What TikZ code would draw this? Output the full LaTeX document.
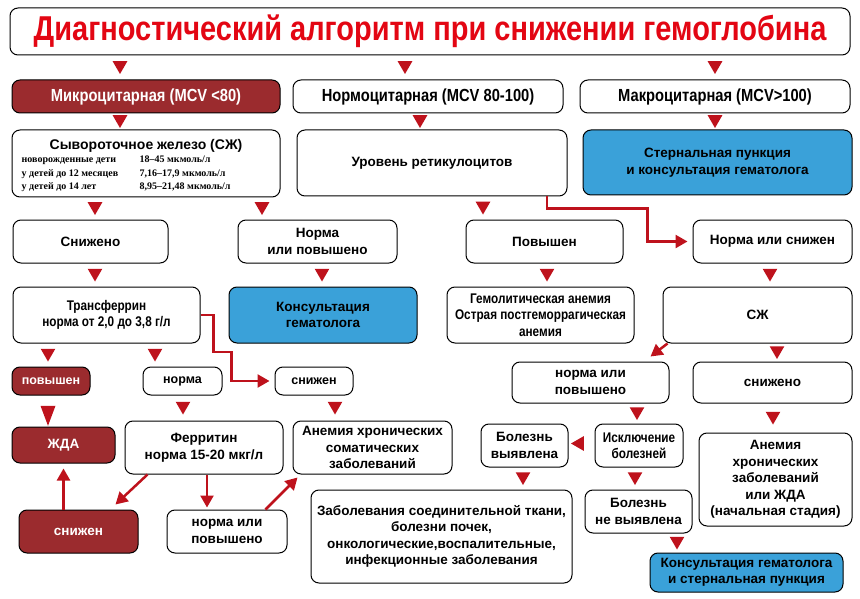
\documentclass[tikz,border=0pt]{standalone}
\usepackage{fontspec}
\setmainfont{Liberation Sans}
\newfontfamily\condfont[FakeStretch=0.84]{Liberation Sans}
\newfontfamily\tabfont{Liberation Serif}
\usetikzlibrary{arrows.meta,positioning,shapes.geometric,calc}
\definecolor{darkred}{HTML}{9B2B2E}
\definecolor{arrred}{HTML}{BE121C}
\definecolor{titlered}{HTML}{E30613}
\definecolor{hemblue}{HTML}{3AA1D9}

\begin{document}
\begin{tikzpicture}[x=1pt,y=-1pt,
  font=\bfseries\fontsize{13.5}{16.5}\selectfont,
  box/.style={draw=black,line width=1pt,rounded corners=8pt,fill=white,align=center,inner sep=2pt},
  red box/.style={box,fill=darkred,text=white},
  blue box/.style={box,fill=hemblue},
  boxsize/.style 2 args={minimum width=#1,minimum height=#2},
  cond/.style={font=\condfont\bfseries\fontsize{17.5}{20}\selectfont},
  cond small/.style={font=\condfont\bfseries\fontsize{14}{16.5}\selectfont},
  small/.style={font=\bfseries\fontsize{12.5}{15}\selectfont},
  tri/.style={regular polygon,regular polygon sides=3,shape border rotate=180,fill=arrred,inner sep=0pt,minimum size=17pt,yshift=2pt},
  long tri/.style={isosceles triangle,isosceles triangle stretches,shape border rotate=-90,fill=arrred,inner sep=0pt,minimum width=15pt,minimum height=20pt},
  left tri/.style={tri,shape border rotate=90,yshift=0pt,xshift=-2pt},
  conn/.style={draw=arrred,line width=2.5pt,-{Triangle[length=12pt,width=13pt]}}
]
\useasboundingbox (0,0) rectangle (860,599);

% title
\node[box,boxsize={840pt}{47pt},font=\condfont\bfseries\fontsize{34.5}{38}\selectfont,text=titlered] (title) at (430,31.5)
  {Диагностический алгоритм при снижении гемоглобина};

% MCV
\node[red box,cond,boxsize={268pt}{33pt}] (micro) at (146,96.5) {Микроцитарная (MCV <80)};
\node[box,cond,boxsize={270pt}{33pt}] (normo) at (428,96.5) {Нормоцитарная (MCV 80-100)};
\node[box,cond,boxsize={270pt}{33pt}] (macro) at (715,96.5) {Макроцитарная (MCV>100)};

% serum iron, reticulocytes, sternal puncture
\node[box,boxsize={268pt}{67pt}] (szh) at (146,163.5) {};
\node[anchor=base,font=\bfseries\fontsize{14}{16}\selectfont] (szhhead) at ([yshift=-20pt]szh.north) {Сывороточное железо (СЖ)};
\node[anchor=base west,inner sep=0pt,font=\tabfont\bfseries\fontsize{10}{13.5}\selectfont] (szhtab) at ([xshift=10pt,yshift=-33.5pt]szh.north west)
  {\begin{tabular}[t]{@{}p{118pt}@{}l@{}}
   новорожденные дети & 18–45 мкмоль/л\\
   у детей до 12 месяцев & 7,16–17,9 мкмоль/л\\
   у детей до 14 лет & 8,95–21,48 мкмоль/л
   \end{tabular}};
\node[box,boxsize={270pt}{66pt}] (retic) at (432,163) {Уровень ретикулоцитов};
\node[blue box,boxsize={269pt}{65pt}] (stern) at (717.5,162.5) {Стернальная пункция\\и консультация гематолога};

% third row
\node[box,boxsize={155pt}{43pt}] (low1) at (90.5,241.5) {Снижено};
\node[box,boxsize={159pt}{43pt}] (normhigh1) at (317.5,241.5) {Норма\\или повышено};
\node[box,boxsize={157pt}{43pt}] (high1) at (544.5,241.5) {Повышен};
\node[box,boxsize={159pt}{43pt}] (normlow) at (772.5,241.5) {Норма или снижен};

% transferrin etc.
\node[box,cond small,boxsize={187pt}{56pt}] (transf) at (106.5,315) {Трансферрин\\норма от 2,0 до 3,8 г/л};
\node[blue box,boxsize={188pt}{56pt}] (hemcons) at (323,315) {Консультация\\гематолога};
\node[box,cond small,boxsize={187pt}{56pt}] (hemol) at (540.5,315) {Гемолитическая анемия\\Острая постгеморрагическая\\анемия};
\node[box,boxsize={189pt}{56pt}] (szh2) at (757.5,315) {СЖ};

\node[red box,small,boxsize={78pt}{28pt}] (tfhigh) at (51,381) {повышен};
\node[box,small,boxsize={79pt}{28pt}] (tfnorm) at (182.5,381) {норма};
\node[box,small,boxsize={78pt}{28pt}] (tflow) at (314,381) {снижен};
\node[box,boxsize={157pt}{41pt}] (normhigh2) at (590.5,382.5) {норма или\\повышено};
\node[box,boxsize={159pt}{41pt}] (low2) at (772.5,382.5) {снижено};

% ferritin row
\node[red box,boxsize={103pt}{36pt}] (ida) at (63.5,445) {ЖДА};
\node[box,boxsize={158pt}{53pt}] (ferr) at (204,447.5) {Ферритин\\норма 15-20 мкг/л};
\node[box,boxsize={159pt}{53pt}] (acd) at (372.5,447.5) {Анемия хронических\\соматических\\заболеваний};
\node[box,boxsize={87pt}{43pt}] (found) at (524.5,445.5) {Болезнь\\выявлена};
\node[box,cond small,boxsize={88pt}{43pt}] (excl) at (639,445.5) {Исключение\\болезней};
\node[box,boxsize={153pt}{93pt}] (acdida) at (775.5,479.5) {Анемия\\хронических\\заболеваний\\или ЖДА\\(начальная стадия)};

% bottom row
\node[red box,boxsize={119pt}{43pt}] (tflow2) at (78.5,531.5) {снижен};
\node[box,boxsize={120pt}{43pt}] (normhigh3) at (227,531.5) {норма или\\повышено};
\node[box,boxsize={261pt}{93pt}] (diseases) at (441.5,536.5)
  {Заболевания соединительной ткани,\\болезни почек,\\онкологические,воспалительные,\\инфекционные заболевания};
\node[box,boxsize={107pt}{43pt}] (notfound) at (638.5,511.5) {Болезнь\\не выявлена};
\node[blue box,boxsize={193pt}{39pt}] (hemcons2) at (746.5,572.5) {Консультация гематолога\\и стернальная пункция};

% triangles
\path (title.south -| 120,0) -- node[tri]{} (micro.north -| 120,0);
\path (title.south -| 405,0) -- node[tri]{} (normo.north -| 405,0);
\path (title.south -| 715,0) -- node[tri]{} (macro.north -| 715,0);
\path (micro.south -| 120,0) -- node[tri]{} (szh.north -| 120,0);
\path (normo.south -| 420,0) -- node[tri]{} (retic.north -| 420,0);
\path (macro.south -| 715,0) -- node[tri]{} (stern.north -| 715,0);
\path (szh.south -| 95,0) -- node[tri]{} (low1.north -| 95,0);
\path (szh.south -| 262,0) -- node[tri]{} (normhigh1.north -| 262,0);
\path (retic.south -| 483,0) -- node[tri]{} (high1.north -| 483,0);
\path (low1.south -| 95,0) -- node[tri]{} (transf.north -| 95,0);
\path (normhigh1.south -| 322,0) -- node[tri]{} (hemcons.north -| 322,0);
\path (high1.south -| 547,0) -- node[tri]{} (hemol.north -| 547,0);
\path (normlow.south -| 770,0) -- node[tri]{} (szh2.north -| 770,0);
\path (transf.south -| 48,0) -- node[tri]{} (tfhigh.north -| 48,0);
\path (transf.south -| 155,0) -- node[tri]{} (tfnorm.north -| 155,0);
\path (szh2.south -| 777,0) -- node[tri]{} (low2.north -| 777,0);
\path (tfhigh.south -| 48,0) -- node[long tri]{} (ida.north -| 48,0);
\path (tfnorm.south -| 183,0) -- node[tri]{} (ferr.north -| 183,0);
\path (tflow.south -| 335,0) -- node[tri]{} (acd.north -| 335,0);
\path (normhigh2.south -| 637,0) -- node[tri]{} (excl.north -| 637,0);
\path (low2.south -| 773,0) -- node[tri]{} (acdida.north -| 773,0);
\path (excl.west) -- node[left tri]{} (found.east);
\path (found.south -| 523,0) -- node[tri]{} (diseases.north -| 523,0);
\path (excl.south -| 635,0) -- node[tri]{} (notfound.north -| 635,0);
\path (notfound.south -| 677,0) -- node[tri]{} (hemcons2.north -| 677,0);

% red arrows
\draw[conn,shorten >=5pt] (retic.south -| 547,0) -- ++(0,12) -| ([xshift=-45pt]normlow.west) -- (normlow.west);
\draw[conn,shorten >=5pt] (transf.east) -| ([xshift=-61pt,yshift=29pt]tflow.west) -| ([xshift=-43pt]tflow.west) -- (tflow.west);
\draw[conn] ([xshift=5pt]szh2.south west) -- ([xshift=-19pt,yshift=5pt]normhigh2.north east);
\draw[conn,shorten >=5pt] (tflow2.north -| ida.south) -- (ida.south);
\draw[conn] ([xshift=23pt]ferr.south west) -- ([xshift=-23pt,yshift=5pt]tflow2.north east);
\draw[conn,shorten >=2pt] (ferr.south -| 207,0) -- (normhigh3.north -| 207,0);
\draw[conn] ([xshift=-22pt]normhigh3.north east) -- ([xshift=5pt,yshift=-3pt]acd.south west);
\end{tikzpicture}
\end{document}
